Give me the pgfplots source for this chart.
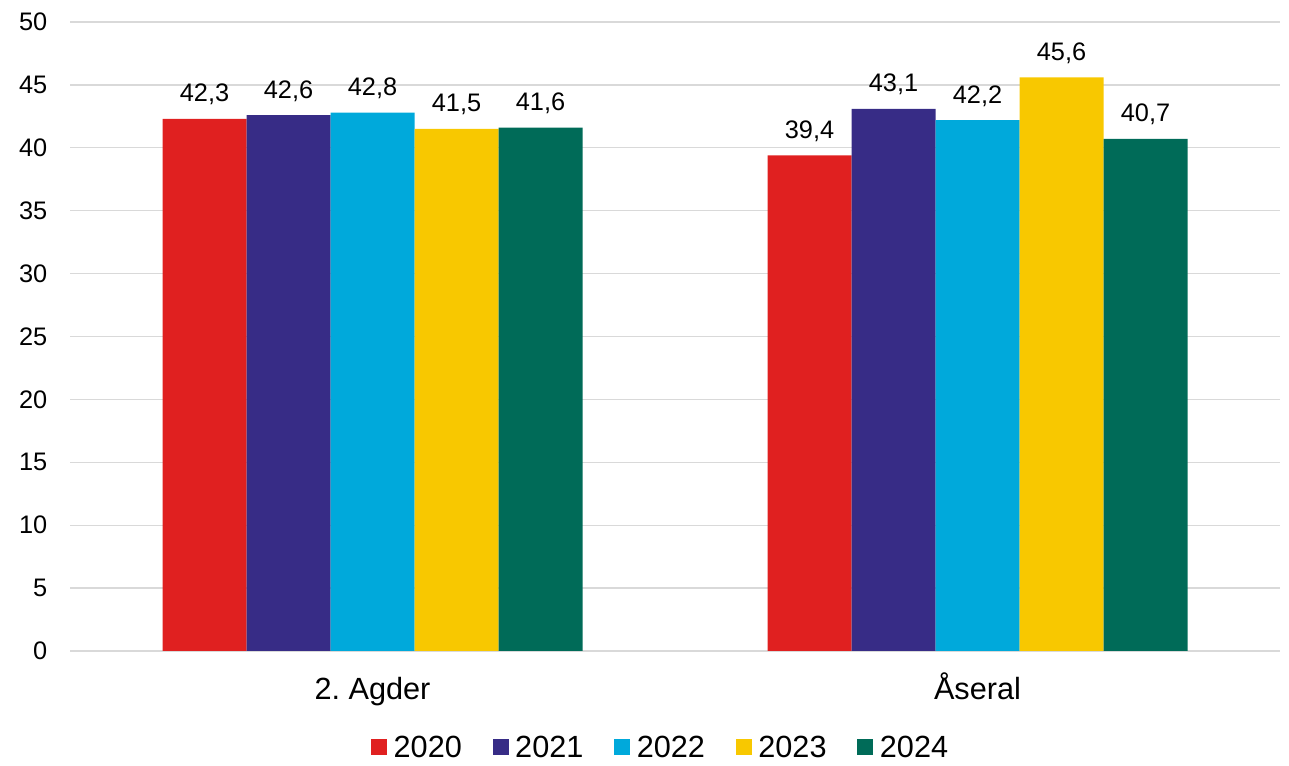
\documentclass[border=0pt]{standalone}
\usepackage{fontspec}
\setmainfont{Liberation Sans}
\usepackage{pgfplots}
\pgfplotsset{compat=1.18}
\frenchspacing

\definecolor{c2020}{HTML}{E02020}
\definecolor{c2021}{HTML}{372C86}
\definecolor{c2022}{HTML}{00A9DB}
\definecolor{c2023}{HTML}{F8C800}
\definecolor{c2024}{HTML}{006B58}
\definecolor{gridgray}{HTML}{D9D9D9}

\begin{document}
\begin{tikzpicture}
\begin{axis}[
    name=ax,
    scale only axis,
    width=907.5pt, height=471.75pt,
    ybar=0pt, bar width=63pt,
    xmin=-0.5, xmax=1.5,
    ymin=0, ymax=50,
    ytick={0,5,...,50},
    xtick={0,1},
    xticklabels={2. Agder, Åseral},
    axis x line*=bottom,
    axis y line*=left,
    y axis line style={draw=none},
    x axis line style={gridgray, line width=1pt, -},
    ymajorgrids=true,
    grid style={gridgray, line width=1pt},
    major tick length=0pt,
    yticklabel style={font=\fontsize{19}{21}\selectfont, anchor=east, xshift=-13.5pt},
    xticklabel style={font=\fontsize{23}{25}\selectfont, anchor=base, yshift=-36.75pt},
    /pgf/number format/assume math mode=true,
    nodes near coords={\pgfmathprintnumber[fixed, fixed zerofill, precision=1, use comma]{\pgfplotspointmeta}},
    every node near coord/.append style={font=\fontsize{19}{21}\selectfont, anchor=base, yshift=12.75pt, black},
    legend columns=-1,
    legend style={draw=none, fill=none, at={(0.49,0)}, anchor=center, yshift=-72.75pt,
        font=\fontsize{23}{25}\selectfont,
        nodes={inner xsep=5pt},
        /tikz/every even column/.append style={column sep=18pt}},
    legend image code/.code={\fill[#1] (0pt,-5pt) rectangle (12pt,7pt);},
    clip=false,
]
\addplot[fill=c2020, draw=none] coordinates {(0,42.3) (1,39.4)};
\addplot[fill=c2021, draw=none] coordinates {(0,42.6) (1,43.1)};
\addplot[fill=c2022, draw=none] coordinates {(0,42.8) (1,42.2)};
\addplot[fill=c2023, draw=none] coordinates {(0,41.5) (1,45.6)};
\addplot[fill=c2024, draw=none] coordinates {(0,41.6) (1,40.7)};
\legend{2020,2021,2022,2023,2024}
\end{axis}
\path (ax.south west) ++(-52.5pt,-83.25pt) coordinate (bl);
\path (ax.north east) ++(6.75pt,16.5pt) coordinate (tr);
\path (bl) rectangle (tr);
\end{tikzpicture}
\end{document}
